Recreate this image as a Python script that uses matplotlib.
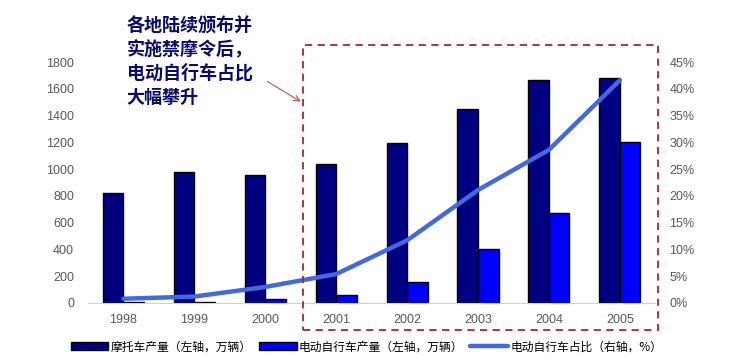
import matplotlib
matplotlib.use('Agg')
import matplotlib.pyplot as plt
import matplotlib.patches as mpatches
import numpy as np

plt.rcParams['font.family'] = ['Liberation Sans', 'Noto Sans CJK SC', 'DejaVu Sans']

years = ['1998', '1999', '2000', '2001', '2002', '2003', '2004', '2005']
moto = [820, 978, 956, 1035, 1195, 1450, 1665, 1682]
ebike = [4, 10, 30, 60, 160, 400, 672, 1205]
share = [0.8, 1.2, 3.0, 5.4, 11.7, 21.1, 28.6, 41.6]

fig = plt.figure(figsize=(7.33, 3.64), dpi=100)
fig.patch.set_facecolor('white')
ax = fig.add_axes([0.12, 0.1676, 0.774, 0.662])

x = np.arange(len(years))
w = 0.29
ax.bar(x - w/2, moto, w, color='#000080', edgecolor='black', linewidth=1,
       label='摩托车产量（左轴，万辆）', zorder=2)
ax.bar(x + w/2, ebike, w, color='#0000FF', edgecolor='black', linewidth=1,
       label='电动自行车产量（左轴，万辆）', zorder=2)

ax2 = ax.twinx()
ax2.plot(x, share, color='#4169E1', linewidth=3.2, solid_capstyle='round',
         label='电动自行车占比（右轴，%）', zorder=3)

ax.set_xlim(-0.5, 7.5)
ax.set_ylim(0, 1800)
ax.set_yticks(range(0, 1801, 200))
ax2.set_ylim(0, 45)
ax2.set_yticks(range(0, 46, 5))
ax2.set_yticklabels([f'{v}%' for v in range(0, 46, 5)])
ax.set_xticks(x)
ax.set_xticklabels(years)

for a in (ax, ax2):
    for s in ['top', 'left', 'right', 'bottom']:
        a.spines[s].set_visible(False)
    a.tick_params(length=0, labelsize=9, colors='#595959')
ax.spines['bottom'].set_visible(True)
ax.spines['bottom'].set_color('#d0d0d0')
ax.tick_params(axis='x', pad=8)
ax.tick_params(axis='y', pad=10)
ax2.tick_params(axis='y', pad=10)

# 红色虚线框
rect = mpatches.Rectangle((0.4134, 0.0934), 0.4843, 0.783, transform=fig.transFigure,
                          fill=False, edgecolor='#A52A2A', linestyle=(0, (4, 3)),
                          linewidth=1.3, clip_on=False)
fig.patches.append(rect)

fig.text(0.173, 0.955, '各地陆续颁布并\n实施禁摩令后，\n电动自行车占比\n大幅攀升',
         family=['Noto Sans CJK SC'], fontsize=13, color='#0a0a6e', fontweight='semibold',
         va='top', ha='left', linespacing=1.32)
ax.annotate('', xy=(0.4134, 0.717), xycoords='figure fraction',
            xytext=(0.3615, 0.780), textcoords='figure fraction',
            arrowprops=dict(arrowstyle='->', color='#C0504D', lw=0.8))

h1, l1 = ax.get_legend_handles_labels()
h2, l2 = ax2.get_legend_handles_labels()
fig.legend(h1 + h2, l1 + l2, loc='lower center', bbox_to_anchor=(0.5, 0.0), ncol=3,
           frameon=False, prop={'family': ['Noto Sans CJK SC'], 'size': 8.5},
           handlelength=3.2, handleheight=0.6, handletextpad=0.2, columnspacing=0.6)

plt.savefig('out.png', dpi=100, facecolor='white')
